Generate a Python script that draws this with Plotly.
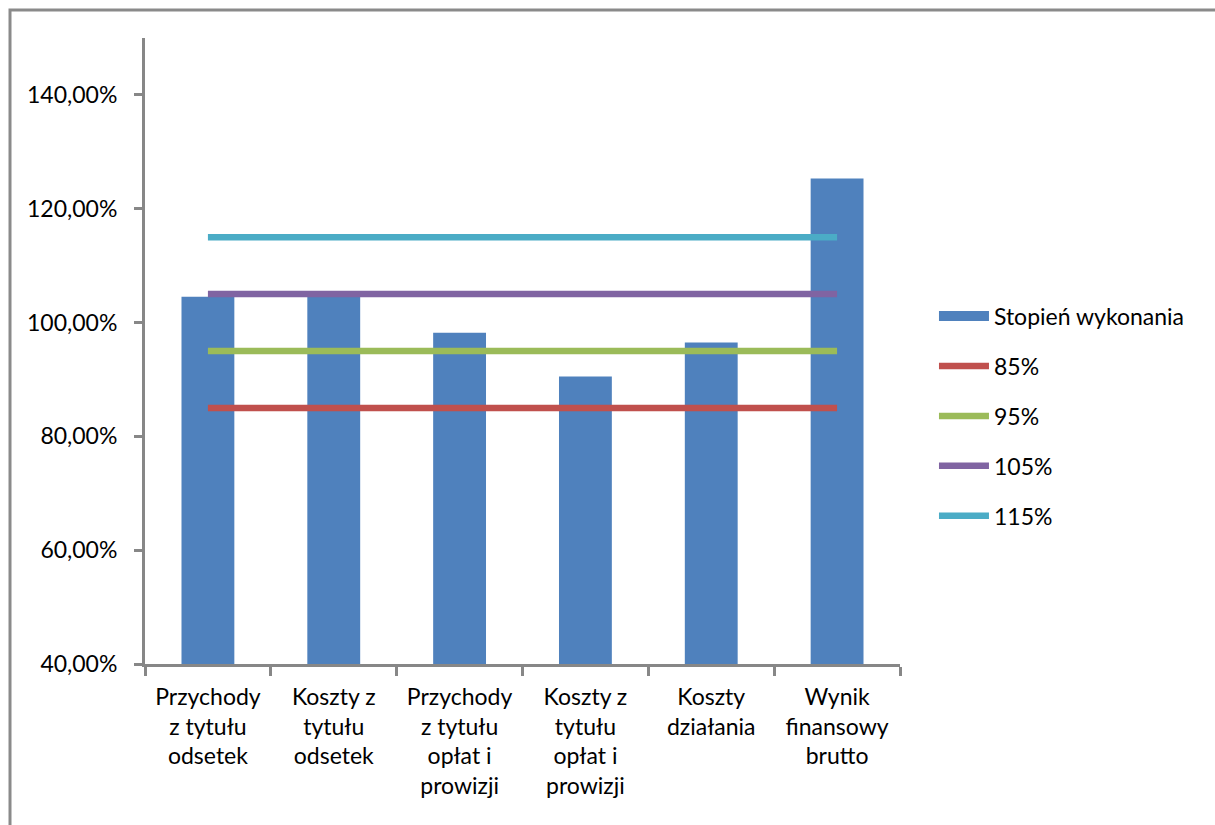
import plotly.graph_objects as go

categories = [
    "Przychody<br>z tytułu<br>odsetek",
    "Koszty z<br>tytułu<br>odsetek",
    "Przychody<br>z tytułu<br>opłat i<br>prowizji",
    "Koszty z<br>tytułu<br>opłat i<br>prowizji",
    "Koszty<br>działania",
    "Wynik<br>finansowy<br>brutto",
]
stopien = [104.55, 104.8, 98.2, 90.5, 96.5, 125.3]
line85 = [85, 85, 85, 85, 85, 85]
line95 = [95, 95, 95, 95, 95, 95]
line105 = [105, 105, 105, 105, 105, 105]
line115 = [115, 115, 115, 115, 115, 115]
ytickvals = [40, 60, 80, 100, 120, 140]
yticktext = ["40,00%", "60,00%", "80,00%", "100,00%", "120,00%", "140,00%"]

FONT = "Lato"
BARCOL = "#4F81BD"
fig = go.Figure()
fig.add_trace(go.Bar(x=categories, y=stopien, name="Stopień wykonania",
                     marker=dict(color=BARCOL, line=dict(width=0)),
                     width=0.42, legendgroup="a", showlegend=False))
# legend entry for bars drawn as a wide swatch
fig.add_trace(go.Scatter(x=[None], y=[None], name="Stopień wykonania", mode="lines",
                         line=dict(color=BARCOL, width=16), legendgroup="a"))
for name, vals, col, g in [("85%", line85, "#C0504D", "b"),
                           ("95%", line95, "#9BBB59", "c"),
                           ("105%", line105, "#8064A2", "d"),
                           ("115%", line115, "#4BACC6", "e")]:
    fig.add_trace(go.Scatter(x=categories, y=vals, name=name, mode="lines",
                             line=dict(color=col, width=6.5), legendgroup=g))

axcol = "#878787"
fig.update_layout(
    width=1215, height=825,
    margin=dict(l=145, r=315, t=38, b=161),
    paper_bgcolor="white", plot_bgcolor="white",
    font=dict(family=FONT, size=23, color="black"),
    showlegend=True,
    legend=dict(x=1.045, y=0.59, xanchor="left", yanchor="top",
                font=dict(family=FONT, size=23), tracegroupgap=17,
                itemwidth=50, traceorder="grouped"),
    xaxis=dict(showline=True, linecolor=axcol, linewidth=3, ticks="outside",
               tickson="boundaries", ticklen=9, tickwidth=3, tickcolor=axcol,
               showgrid=False, tickangle=0, ticklabelstandoff=10),
    yaxis=dict(range=[40, 150], showline=True, linecolor=axcol, linewidth=3,
               ticks="outside", ticklen=8, tickwidth=3, tickcolor=axcol,
               showgrid=False, zeroline=False, tickvals=ytickvals,
               ticktext=yticktext, ticklabelstandoff=12),
    shapes=[dict(type="rect", xref="paper", yref="paper",
                 x0=-0.1788, x1=2.0, y0=-1.0, y1=1.0447,
                 line=dict(color="#8a8a8a", width=3), layer="below")],
)
fig.write_html("out.html")
